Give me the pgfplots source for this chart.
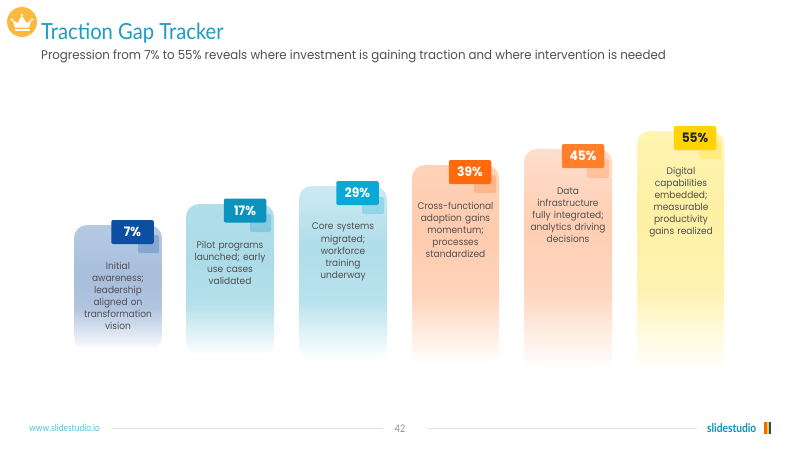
\documentclass[border=0pt]{standalone}
\usepackage{pgfplots}
\pgfplotsset{compat=1.18}
\usepackage{fontspec}
\setmainfont{Poppins}[FakeStretch=0.94]
\newfontfamily\titlefont{Lato}[FakeStretch=0.91]
\newfontfamily\footfont{Lato}[FakeStretch=0.85]
\definecolor{tealT}{HTML}{1E9CC4}
\definecolor{bodyT}{HTML}{505050}
\definecolor{cA}{HTML}{0B4EA2}
\definecolor{cB}{HTML}{0A93BC}
\definecolor{cC}{HTML}{0AA8D6}
\definecolor{cD}{HTML}{FF6A0D}
\definecolor{cE}{HTML}{FF7F2A}
\definecolor{cF}{HTML}{FFD400}
\pgfdeclareverticalshading{barA}{100bp}{color(0bp)=(white); color(25bp)=(white); color(33bp)=(rgb,255:red,216;green,226;blue,240); color(42bp)=(rgb,255:red,176;green,196;blue,224); color(55bp)=(rgb,255:red,168;green,190;blue,220); color(75bp)=(rgb,255:red,182;green,202;blue,226); color(100bp)=(rgb,255:red,182;green,202;blue,226)}
\pgfdeclareverticalshading{barB}{100bp}{color(0bp)=(white); color(25bp)=(white); color(33bp)=(rgb,255:red,220;green,241;blue,246); color(42bp)=(rgb,255:red,180;green,224;blue,235); color(55bp)=(rgb,255:red,172;green,220;blue,232); color(75bp)=(rgb,255:red,176;green,222;blue,234); color(100bp)=(rgb,255:red,176;green,222;blue,234)}
\pgfdeclareverticalshading{barC}{100bp}{color(0bp)=(white); color(25bp)=(white); color(33bp)=(rgb,255:red,222;green,242;blue,247); color(42bp)=(rgb,255:red,184;green,226;blue,237); color(58bp)=(rgb,255:red,176;green,221;blue,234); color(75bp)=(rgb,255:red,206;green,234;blue,242); color(100bp)=(rgb,255:red,206;green,234;blue,242)}
\pgfdeclareverticalshading{barD}{100bp}{color(0bp)=(white); color(25bp)=(white); color(33bp)=(rgb,255:red,255;green,236;blue,224); color(42bp)=(rgb,255:red,255;green,212;blue,188); color(58bp)=(rgb,255:red,255;green,203;blue,174); color(75bp)=(rgb,255:red,255;green,210;blue,184); color(100bp)=(rgb,255:red,255;green,210;blue,184)}
\pgfdeclareverticalshading{barE}{100bp}{color(0bp)=(white); color(25bp)=(white); color(33bp)=(rgb,255:red,255;green,238;blue,228); color(42bp)=(rgb,255:red,255;green,214;blue,192); color(58bp)=(rgb,255:red,255;green,206;blue,178); color(75bp)=(rgb,255:red,255;green,222;blue,204); color(100bp)=(rgb,255:red,255;green,222;blue,204)}
\pgfdeclareverticalshading{barF}{100bp}{color(0bp)=(white); color(25bp)=(white); color(33bp)=(rgb,255:red,255;green,250;blue,222); color(42bp)=(rgb,255:red,254;green,243;blue,178); color(58bp)=(rgb,255:red,254;green,240;blue,164); color(75bp)=(rgb,255:red,255;green,244;blue,178); color(100bp)=(rgb,255:red,255;green,244;blue,178)}
\pgfplotsset{
  bar/.style={draw=none,shade,shading=#1,rounded corners=13pt,mark=none},
  under/.style={draw=none,fill=#1,fill opacity=.25,rounded corners=2pt,mark=none},
  badge/.style={draw=none,mark=none,point meta=explicit symbolic,nodes near coords,
    nodes near coords align=center,
    every node near coord/.append style={fill=#1,rounded corners=2pt,minimum width=42.5pt,minimum height=24pt,inner sep=0pt,anchor=center,font=\fontsize{13}{14}\selectfont\bfseries,text=white}},
}
\tikzset{desc/.style={text width=84pt,align=center,inner sep=0pt,font=\fontsize{9.6}{12.1}\selectfont,text=bodyT}}
\begin{document}
\begin{tikzpicture}
\begin{axis}[width=800pt,height=450pt,scale only axis,hide axis,xmin=0,xmax=800,ymin=0,ymax=450,y dir=reverse,clip=false]
\fill[white] (0,0) rectangle (800,450);
% bars: (left,bottom)(left,top)(right,top)(right,bottom)
\addplot[bar=barA] coordinates {(74,350)(74,225)(162,225)(162,350)} --cycle;
\addplot[bar=barB] coordinates {(186,355)(186,204)(274,204)(274,355)} --cycle;
\addplot[bar=barC] coordinates {(299,360)(299,186)(387,186)(387,360)} --cycle;
\addplot[bar=barD] coordinates {(412,364)(412,165)(499,165)(499,364)} --cycle;
\addplot[bar=barE] coordinates {(524,369)(524,149)(612,149)(612,369)} --cycle;
\addplot[bar=barF] coordinates {(637,373)(637,131)(724,131)(724,373)} --cycle;
% offset squares behind badges
\addplot[under=cA] coordinates {(138,235)(138,253)(159,253)(159,235)} --cycle;
\addplot[under=cB] coordinates {(250,214)(250,232)(271,232)(271,214)} --cycle;
\addplot[under=cC] coordinates {(362,197)(362,214)(384,214)(384,197)} --cycle;
\addplot[under=cD] coordinates {(474,175)(474,193)(496,193)(496,175)} --cycle;
\addplot[under=cE] coordinates {(587,159)(587,178)(609,178)(609,159)} --cycle;
\addplot[under=cF] coordinates {(699,141)(699,159)(721,159)(721,141)} --cycle;
% badges
\addplot[badge=cA] coordinates {(132.5,232) [7\%]};
\addplot[badge=cB] coordinates {(245,210.5) [17\%]};
\addplot[badge=cC] coordinates {(357.5,193) [29\%]};
\addplot[badge=cD] coordinates {(470,172) [39\%]};
\addplot[badge=cE] coordinates {(583,156) [45\%]};
\addplot[badge=cF,every node near coord/.append style={text=black!85}] coordinates {(695,138) [55\%]};
% descriptions
\node[desc] at (118,296) {Initial\\awareness;\\leadership\\aligned on\\transformation\\vision};
\node[desc] at (230,263) {Pilot programs\\launched; early\\use cases\\validated};
\node[desc] at (343,252) {Core systems\\migrated;\\workforce\\training\\underway};
\node[desc] at (455.5,230) {Cross-functional\\adoption gains\\momentum;\\processes\\standardized};
\node[desc] at (568,215) {Data\\infrastructure\\fully integrated;\\analytics driving\\decisions};
\node[desc] at (681,202) {Digital\\capabilities\\embedded;\\measurable\\productivity\\gains realized};
% header
\definecolor{crown}{HTML}{FDB840}
\fill[crown] (22,22) circle[radius=15];
\fill[white,rounded corners=.4pt] (15,27.5)--(12.5,20)--(17.5,23)--(22,15.5)--(26.5,23)--(31.5,20)--(29,27.5)--cycle;
\fill[white] (12,19.5) circle[radius=1.3] (32,19.5) circle[radius=1.3] (22,15) circle[radius=1.3];
\fill[white] (14.5,29)rectangle(29.5,30.6);
\node[anchor=west,inner sep=0pt,text=tealT,font=\titlefont\fontsize{22.2}{24}\selectfont] at (41,33) {Traction Gap Tracker};
\node[anchor=west,inner sep=0pt,text=bodyT,font=\fontsize{12.55}{15}\selectfont] at (41,56.5) {Progression from 7\% to 55\% reveals where investment is gaining traction and where intervention is needed};
% footer
\draw[black!12,line width=.8pt] (111,428.5)--(383,428.5) (427,428.5)--(697,428.5);
\node[anchor=west,inner sep=0pt,text=cC!70,font=\footfont\fontsize{10}{11}\selectfont] at (29,428) {www.slidestudio.io};
\node[inner sep=0pt,text=black!45,font=\footfont\fontsize{10.5}{12}\selectfont] at (400,429) {42};
\node[anchor=west,inner sep=0pt,text=cB,font=\footfont\bfseries\fontsize{12}{12}\selectfont] at (707,428) {slidestudio};
\fill[orange!80!red] (764,422) rectangle (766.5,434);
\fill[cF] (766.5,422) rectangle (768.8,434);
\fill[cA] (768.8,422) rectangle (771,434);
\end{axis}
\end{tikzpicture}
\end{document}
